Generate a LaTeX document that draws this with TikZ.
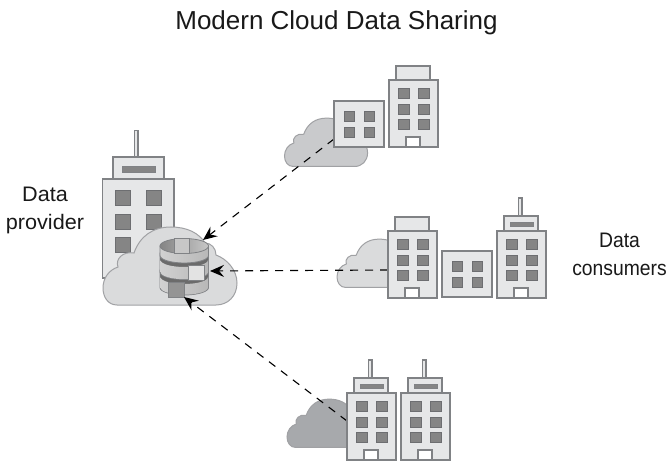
\documentclass[tikz,border=0pt]{standalone}
\usepackage{fontspec}
\setmainfont{Liberation Sans}
\usetikzlibrary{arrows.meta}
\definecolor{wall}{HTML}{E6E7E8}
\definecolor{edgeg}{HTML}{808285}
\definecolor{winf}{HTML}{858585}
\definecolor{cloudA}{HTML}{DADBDC}
\definecolor{cloudB}{HTML}{C9CACC}
\definecolor{cloudC}{HTML}{A7A9AC}
\tikzset{
 wallbox/.style={draw=edgeg,fill=wall,line width=1.25pt},
 window/.style={draw=edgeg!85!black,fill=winf,line width=.7pt},
 doorbox/.style={draw=edgeg,fill=white,line width=1.25pt},
 cloudshape/.style={draw=edgeg!75,line width=1pt},
 link/.style={draw=black,line width=1.1pt,dash pattern=on 8pt off 7pt,-{Stealth[length=14pt,width=12pt,inset=5pt]}},
 label/.style={font=\fontsize{21}{28}\selectfont,align=center,text=black!90,transform shape},
 titlelabel/.style={font=\fontsize{26}{30}\selectfont,text=black!90,transform shape},
 strap/.style={draw=edgeg,line width=.8pt},
}
\newcommand{\cloudpath}[4]{% x y scale fill
 \begin{scope}[shift={(#1,#2)},scale=#3]
 \path[cloudshape,fill=#4] (14,79) .. controls (5,79) and (0,71) .. (0,62) .. controls (0,52) and (6,44) .. (15,41) .. controls (12,33) and (20,25) .. (31,27) .. controls (37,10) and (50,1) .. (68,1) .. controls (84,1) and (96,7) .. (102,17) .. controls (108,17) and (113,22) .. (113,29) .. controls (124,33) and (134,44) .. (134,57) .. controls (134,70) and (125,79) .. (113,79) -- cycle;
 \end{scope}}
\newcommand{\windowsix}{%
 \foreach \wx in {9.5,29.5}{\foreach \wy in {8,24,39}{\draw[window] (\wx,\wy) rectangle ++(10.5,10.5);}}}
\newcommand{\tallbuilding}[2]{% flat roof with door
 \begin{scope}[shift={(#1,#2)}]
 \draw[wallbox] (7,-14) rectangle (41,0);
 \draw[wallbox] (0,0) rectangle (49,67);
 \windowsix
 \draw[doorbox] (17,57) rectangle (31,67);
 \end{scope}}
\newcommand{\towerbuilding}[2]{% antenna with door
 \begin{scope}[shift={(#1,#2)}]
 \draw[wallbox,fill=wall] (21.5,-33) rectangle (25,-15);
 \draw[wallbox] (7,-15) rectangle (41,0);
 \draw[draw=edgeg,fill=winf,line width=.6pt] (13.5,-9) rectangle (36,-5);
 \draw[wallbox] (0,0) rectangle (49,67);
 \windowsix
 \draw[doorbox] (17,57) rectangle (31,67);
 \end{scope}}
\newcommand{\lowoffice}[2]{%
 \begin{scope}[shift={(#1,#2)}]
 \draw[wallbox] (0,0) rectangle (50,46);
 \foreach \wx in {10,30}{\foreach \wy in {10,26}{\draw[window] (\wx,\wy) rectangle ++(10.5,10.5);}}
 \end{scope}}
% args: side-top y of dark band, side-top y of light body, side-bottom y
\newcommand{\dblayer}[3]{%
 \shade[left color=black!58,middle color=black!38,right color=black!58,draw=edgeg,line width=.8pt]
  (160,#1) -- (208.5,#1) -- (208.5,#3) arc[start angle=0,end angle=180,x radius=24.25,y radius=7.5] -- cycle;
 \shade[left color=black!18,middle color=white,right color=black!28]
  (160.5,#2) arc[start angle=180,end angle=0,x radius=23.75,y radius=7] -- (208,#3) arc[start angle=0,end angle=180,x radius=23.75,y radius=7.2] -- cycle;
}
\begin{document}
\begin{tikzpicture}[x=1pt,y=-1pt]
\useasboundingbox (0,0) rectangle (671,462);
\fill[white] (0,0) rectangle (671,462);
\node[titlelabel] (title) at (336.5,22.5) {Modern Cloud Data Sharing};
\node[label,xscale=1.03] (provider) at (45,210) {Data\\provider};
\node[label,xscale=.92] (consumers) at (619.5,254.5) {Data\\consumers};
% provider building
\draw[wallbox] (134.5,130.5) rectangle (138,157);
\draw[wallbox] (113,157) rectangle (164,179);
\draw[draw=edgeg,fill=winf,line width=.6pt] (122,166.5) rectangle (155,172);
\draw[wallbox] (102.5,179) rectangle (174,278);
\foreach \wx in {115.5,146}{\foreach \wy in {190,214,237.5}{\draw[window] (\wx,\wy) rectangle ++(15,15);}}
% clouds
\cloudpath{103}{226}{1}{cloudA}
\cloudpath{284.5}{117.5}{.62}{cloudB}
\cloudpath{337}{238.5}{.62}{cloudA}
\cloudpath{287}{398.5}{.62}{cloudC}
% database
\dblayer{270}{277}{287.5}
\dblayer{253}{260}{272}
\shade[left color=black!18,middle color=white,right color=black!28,draw=edgeg,line width=.8pt]
 (160,246) -- (208.5,246) -- (208.5,255.5) arc[start angle=0,end angle=180,x radius=24.25,y radius=7.5] -- cycle;
\shade[left color=black!48,right color=black!22,draw=edgeg,line width=.8pt] (184.25,246) ellipse[x radius=24.25,y radius=7.5];
\draw[strap,fill=black!22] (174.5,238) rectangle (189.5,253);
\draw[strap,fill=black!11] (188.5,265) rectangle (204,280);
\draw[strap,fill=black!42] (168.5,282.5) rectangle (184,297.5);
% connector end points
\coordinate (dbtop) at (203,240);
\coordinate (dbmid) at (210,271);
\coordinate (dblow) at (184,297);
\coordinate (officeport) at (334,139);
\coordinate (tallport) at (388,270);
\coordinate (towerport) at (347,421);
\draw[link] (officeport) -- (dbtop);
\draw[link] (tallport) -- (dbmid);
\draw[link] (towerport) -- (dblow);
% consumers
\tallbuilding{389}{80}
\lowoffice{334}{101}
\tallbuilding{388}{231}
\lowoffice{442}{251}
\towerbuilding{497}{231}
\towerbuilding{347}{393}
\towerbuilding{401}{393}
\end{tikzpicture}
\end{document}
